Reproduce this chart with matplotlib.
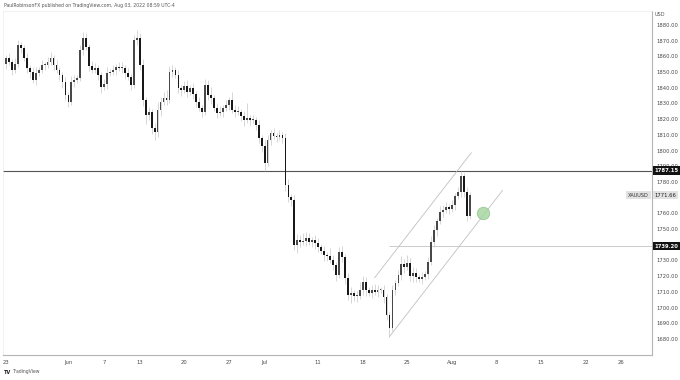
import numpy as np
import matplotlib
matplotlib.use('Agg')
import matplotlib.pyplot as plt
import matplotlib.transforms as mtransforms

# XAUUSD, 8h candles (3 per trading day), May 23 - Aug 3 2022
symbol = 'XAUUSD'
bars_per_day = 3
first_open = 1855.0

closes = [
    1859.0, 1856.4, 1851.3, 1855.2, 1867.3, 1865.3, 1859.0, 1852.6, 1850.1, 1845.0, 1849.4, 1851.3, 1854.5, 1854.5, 1856.4,
    1859.0, 1854.5, 1851.3, 1848.1, 1843.7, 1835.4, 1831.0, 1843.7, 1845.0, 1846.2, 1864.1, 1871.7, 1866.0, 1853.9, 1851.3,
    1852.6, 1848.1, 1840.5, 1842.4, 1849.4, 1850.1, 1851.3, 1853.2, 1852.6, 1852.6, 1849.4, 1846.9, 1841.8, 1870.4, 1871.7,
    1854.5, 1832.2, 1822.7, 1824.6, 1814.4, 1811.8, 1825.9, 1831.0, 1833.5, 1832.2, 1850.1, 1851.3, 1848.1, 1839.9, 1838.6,
    1841.1, 1837.3, 1839.9, 1836.0, 1831.0, 1827.1, 1824.6, 1841.8, 1835.4, 1833.5, 1827.1, 1823.9, 1824.6, 1827.1, 1829.0,
    1832.2, 1825.9, 1824.6, 1824.6, 1822.0, 1819.5, 1820.5, 1819.5, 1819.5, 1816.3, 1808.0, 1802.9, 1792.1, 1806.7, 1811.2,
    1809.3, 1808.7, 1809.9, 1808.0, 1778.1, 1770.4, 1768.5, 1739.9, 1743.0, 1741.8, 1742.4, 1744.3, 1741.8, 1743.0, 1741.1,
    1738.6, 1736.0, 1733.5, 1732.9, 1730.3, 1727.1, 1720.7, 1735.4, 1732.2, 1718.8, 1708.0, 1709.3, 1707.4, 1707.4, 1711.2,
    1716.3, 1711.2, 1709.3, 1711.2, 1709.9, 1711.2, 1711.2, 1706.7, 1695.3, 1687.0, 1711.2, 1715.7, 1720.7, 1727.8, 1725.8,
    1728.4, 1720.1, 1722.0, 1719.5, 1718.2, 1719.4, 1721.4, 1729.0, 1741.8, 1749.4, 1755.1, 1760.9, 1762.2, 1764.1, 1762.8,
    1765.3, 1771.1, 1773.6, 1783.8, 1773.6, 1758.3, 1771.66,
]

# wick length beyond the body, in dollars
up_wick = [
    2, 3, 2, 4, 3, 2, 2, 3, 2, 3, 4, 2, 3, 2, 3,
    4, 2, 3, 2, 2, 3, 2, 4, 3, 2, 3, 4, 3, 2, 3,
    3, 2, 2, 3, 4, 2, 3, 2, 3, 4, 2, 3, 2, 3, 5,
    3, 4, 2, 3, 2, 3, 5, 3, 4, 5, 4, 3, 2, 3, 2,
    3, 4, 2, 3, 2, 3, 2, 4, 3, 5, 2, 3, 4, 2, 3,
    2, 5, 3, 4, 2, 3, 10, 2, 3, 2, 3, 2, 4, 3, 2,
    3, 2, 3, 2, 3, 4, 2, 3, 4, 3, 5, 4, 3, 2, 3,
    3, 2, 3, 2, 5, 3, 2, 3, 4, 2, 3, 4, 2, 3, 5,
    4, 3, 2, 3, 4, 3, 2, 3, 2, 2, 3, 2, 3, 5, 3,
    5, 3, 4, 3, 2, 3, 2, 3, 4, 3, 2, 4, 3, 3, 2,
    3, 2, 3, 3, 2, 3, 2,
]
dn_wick = [
    3, 2, 3, 2, 2, 3, 2, 3, 4, 2, 3, 2, 2, 3, 2,
    2, 3, 2, 3, 4, 3, 3, 2, 3, 2, 2, 3, 2, 3, 2,
    2, 3, 4, 2, 3, 2, 2, 3, 2, 3, 4, 2, 3, 2, 3,
    3, 4, 6, 3, 4, 5, 3, 4, 2, 3, 2, 3, 2, 3, 4,
    2, 3, 2, 3, 3, 2, 3, 2, 3, 4, 2, 3, 2, 3, 2,
    3, 2, 3, 2, 3, 4, 2, 3, 2, 3, 3, 4, 5, 2, 3,
    2, 3, 2, 3, 4, 3, 4, 3, 5, 3, 2, 3, 2, 3, 4,
    3, 2, 4, 3, 2, 3, 4, 2, 3, 4, 3, 5, 3, 4, 2,
    3, 4, 2, 3, 2, 3, 2, 4, 3, 6, 2, 3, 2, 3, 4,
    2, 3, 4, 3, 2, 3, 2, 3, 2, 3, 4, 2, 3, 2, 3,
    2, 3, 2, 3, 3, 3, 2,
]

# trading-day index of each date label (May 23 = 0)
tick_days = [0, 7, 11, 15, 20, 25, 29, 35, 40, 45, 50, 55, 60, 65, 69]
tick_labels = ['23', 'Jun', '7', '13', '20', '27', 'Jul', '11', '18', '25', 'Aug', '8', '15', '22', '26']
price_ticks = [1680, 1690, 1700, 1710, 1720, 1730, 1750, 1760, 1780, 1790,
               1800, 1810, 1820, 1830, 1840, 1850, 1860, 1870, 1880]

resistance = 1787.15
support = 1739.20
support_start = 129
channel_upper = [(124, 1719.0), (156.5, 1798.6)]
channel_lower = [(129, 1681.5), (167, 1774.6)]
target = (160.4, 1760.2)

fig = plt.figure(figsize=(6.8, 3.8), dpi=100)
ax = fig.add_axes([3/680, 25/380, 649/680, 344/380])

c = np.array(closes)
x = np.arange(len(c))
o = np.r_[first_open, c[:-1]]
hi = np.maximum(o, c) + np.array(up_wick)
lo = np.minimum(o, c) - np.array(dn_wick)
ax.vlines(x, lo, hi, color='#c6c6c6', lw=0.5, zorder=2)

up = c >= o
body = np.maximum(np.abs(c - o), 0.7)
bottom = np.minimum(o, c)
ax.bar(x[up], body[up], bottom=bottom[up], width=0.6, color='#484848', lw=0, zorder=3)
ax.bar(x[~up], body[~up], bottom=bottom[~up], width=0.6, color='#181818', lw=0, zorder=3)

# levels and channel
ax.axhline(resistance, color='#555555', lw=0.8, zorder=1)
ax.hlines(support, support_start, 300, color='#cccccc', lw=0.7, zorder=1)
for line in (channel_upper, channel_lower):
    xs, ys = zip(*line)
    ax.plot(xs, ys, color='#c0c0c0', lw=0.6, zorder=1)
ax.scatter([target[0]], [target[1]], s=80, color='#a3d39e', alpha=0.8,
           edgecolor='#86c281', lw=0.6, zorder=6)

ax.set_xlim(-1, 217.3)
ax.set_ylim(1669.8, 1888.9)

ax.yaxis.tick_right()
ax.set_yticks(price_ticks)
ax.set_yticklabels(['%.2f' % p for p in price_ticks])
ax.tick_params(axis='y', length=0, pad=3, labelsize=3.8, labelcolor='#4a4a4a')
ax.set_xticks(np.array(tick_days) * bars_per_day)
ax.set_xticklabels(tick_labels)
ax.tick_params(axis='x', length=0, pad=3.5, labelsize=3.8, labelcolor='#4a4a4a')
for s in ('top', 'left'):
    ax.spines[s].set_color('#ececec')
    ax.spines[s].set_linewidth(0.5)
for s in ('right', 'bottom'):
    ax.spines[s].set_color('#b4b4b4')
    ax.spines[s].set_linewidth(0.8)

# price boxes on the axis
trans = mtransforms.blended_transform_factory(ax.transAxes, ax.transData)
for lvl in (resistance, support):
    ax.text(1.004, lvl, '%.2f' % lvl, transform=trans, ha='left', va='center',
            fontsize=3.8, color='white', fontweight='bold', clip_on=False, zorder=7,
            bbox=dict(boxstyle='square,pad=0.35', fc='#131313', ec='none'))
ax.text(1.004, closes[-1], '%.2f' % closes[-1], transform=trans, ha='left', va='center',
        fontsize=3.8, color='#222222', clip_on=False, zorder=7,
        bbox=dict(boxstyle='square,pad=0.35', fc='#e2e2e2', ec='none'))
ax.text(0.995, closes[-1], symbol, transform=trans, ha='right', va='center',
        fontsize=3.6, color='#333333', zorder=7,
        bbox=dict(boxstyle='square,pad=0.35', fc='#e2e2e2', ec='none'))
fig.text(655/680, 1 - 15/380, 'USD', fontsize=3.6, color='#555555', va='center')

fig.text(4/680, 1 - 5/380, 'PaulRobinsonFX published on TradingView.com, Aug 03, 2022 08:59 UTC-4',
         fontsize=3.3, color='#555555', va='center')
fig.text(4/680, 1 - 372/380, 'TV', fontsize=3.6, fontweight='bold', color='#222222', va='center')
fig.text(12/680, 1 - 372/380, 'TradingView', fontsize=3.3, color='#555555', va='center')

fig.savefig('out.png', dpi=100, facecolor='white')
